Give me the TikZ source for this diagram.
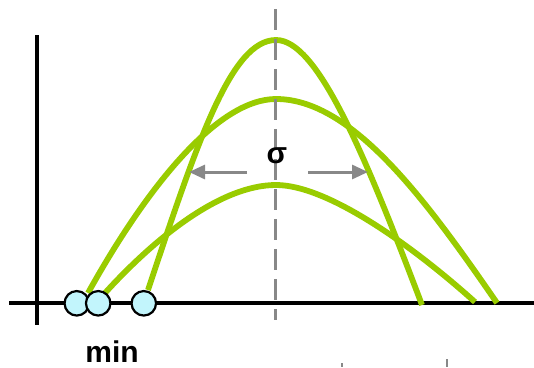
\documentclass[tikz,border=0pt]{standalone}
\usepackage{fontspec}
\setmainfont{Liberation Sans}
\usetikzlibrary{arrows.meta}
\definecolor{lime}{HTML}{99CC00}
\definecolor{ballfill}{HTML}{C2F5FC}
\definecolor{guide}{HTML}{888888}
\begin{document}
\begin{tikzpicture}[x=1pt,y=-1pt,
  axisline/.style={line width=4pt,black},
  curve/.style={line width=5.8pt,lime},
  ball/.style={circle,draw=black,line width=2.2pt,fill=ballfill,minimum size=24.5pt,inner sep=0pt},
  guideline/.style={guide,line width=2.5pt,dash pattern=on 21pt off 9pt},
  widtharrow/.style={guide,line width=3pt,-{Triangle[length=16pt,width=14pt]}},
  tickline/.style={guide,line width=2.5pt},
  lbl/.style={font=\bfseries\fontsize{30}{32}\selectfont,anchor=base,inner sep=0pt}]
\useasboundingbox (0,0) rectangle (534,367);
% axes
\coordinate (xa) at (9,303);
\coordinate (xb) at (534,303);
\coordinate (ya) at (36.7,35);
\coordinate (yb) at (36.7,325);
\draw[axisline] (xa) -- (xb);
\draw[axisline] (ya) -- (yb);
% curves
\coordinate (tl) at (148,290);
\coordinate (tp) at (276,40);
\coordinate (tr) at (422,305);
\coordinate (ml) at (88,293);
\coordinate (mp) at (276,99);
\coordinate (mr) at (497,303);
\coordinate (ll) at (105,293);
\coordinate (lp) at (276,185);
\coordinate (lr) at (475,302);
\draw[curve] (tl) .. controls (198,140) and (231.3,40) .. (tp)
                  .. controls (316.5,40) and (362,146.6) .. (tr);
\draw[curve] (ml) .. controls (148,185) and (218.4,99) .. (mp)
                  .. controls (352.7,99) and (427,201.5) .. (mr);
\draw[curve] (ll) .. controls (155,238) and (220.7,185) .. (lp)
                  .. controls (328.7,185) and (415,248) .. (lr);
% dashed centre line
\coordinate (da) at (275.5,9);
\coordinate (db) at (275.5,320);
\draw[guideline] (da) -- (db);
% width arrows
\coordinate (la) at (247,172);
\coordinate (lb) at (189,172);
\coordinate (ra) at (308,172);
\coordinate (rb) at (368,172);
\draw[widtharrow] (la) -- (lb);
\draw[widtharrow] (ra) -- (rb);
\node[lbl] (sigma) at (277,163) {σ};
% balls
\node[ball] (b1) at (76.8,303.3) {};
\node[ball] (b2) at (98.2,303.3) {};
\node[ball] (b3) at (143.8,303.3) {};
\node[lbl] (minlabel) at (112,362) {min};
% ticks
\coordinate (t1a) at (342,363);
\coordinate (t1b) at (342,367);
\coordinate (t2a) at (447,359);
\coordinate (t2b) at (447,367);
\draw[tickline] (t1a) -- (t1b);
\draw[tickline] (t2a) -- (t2b);
\end{tikzpicture}
\end{document}
